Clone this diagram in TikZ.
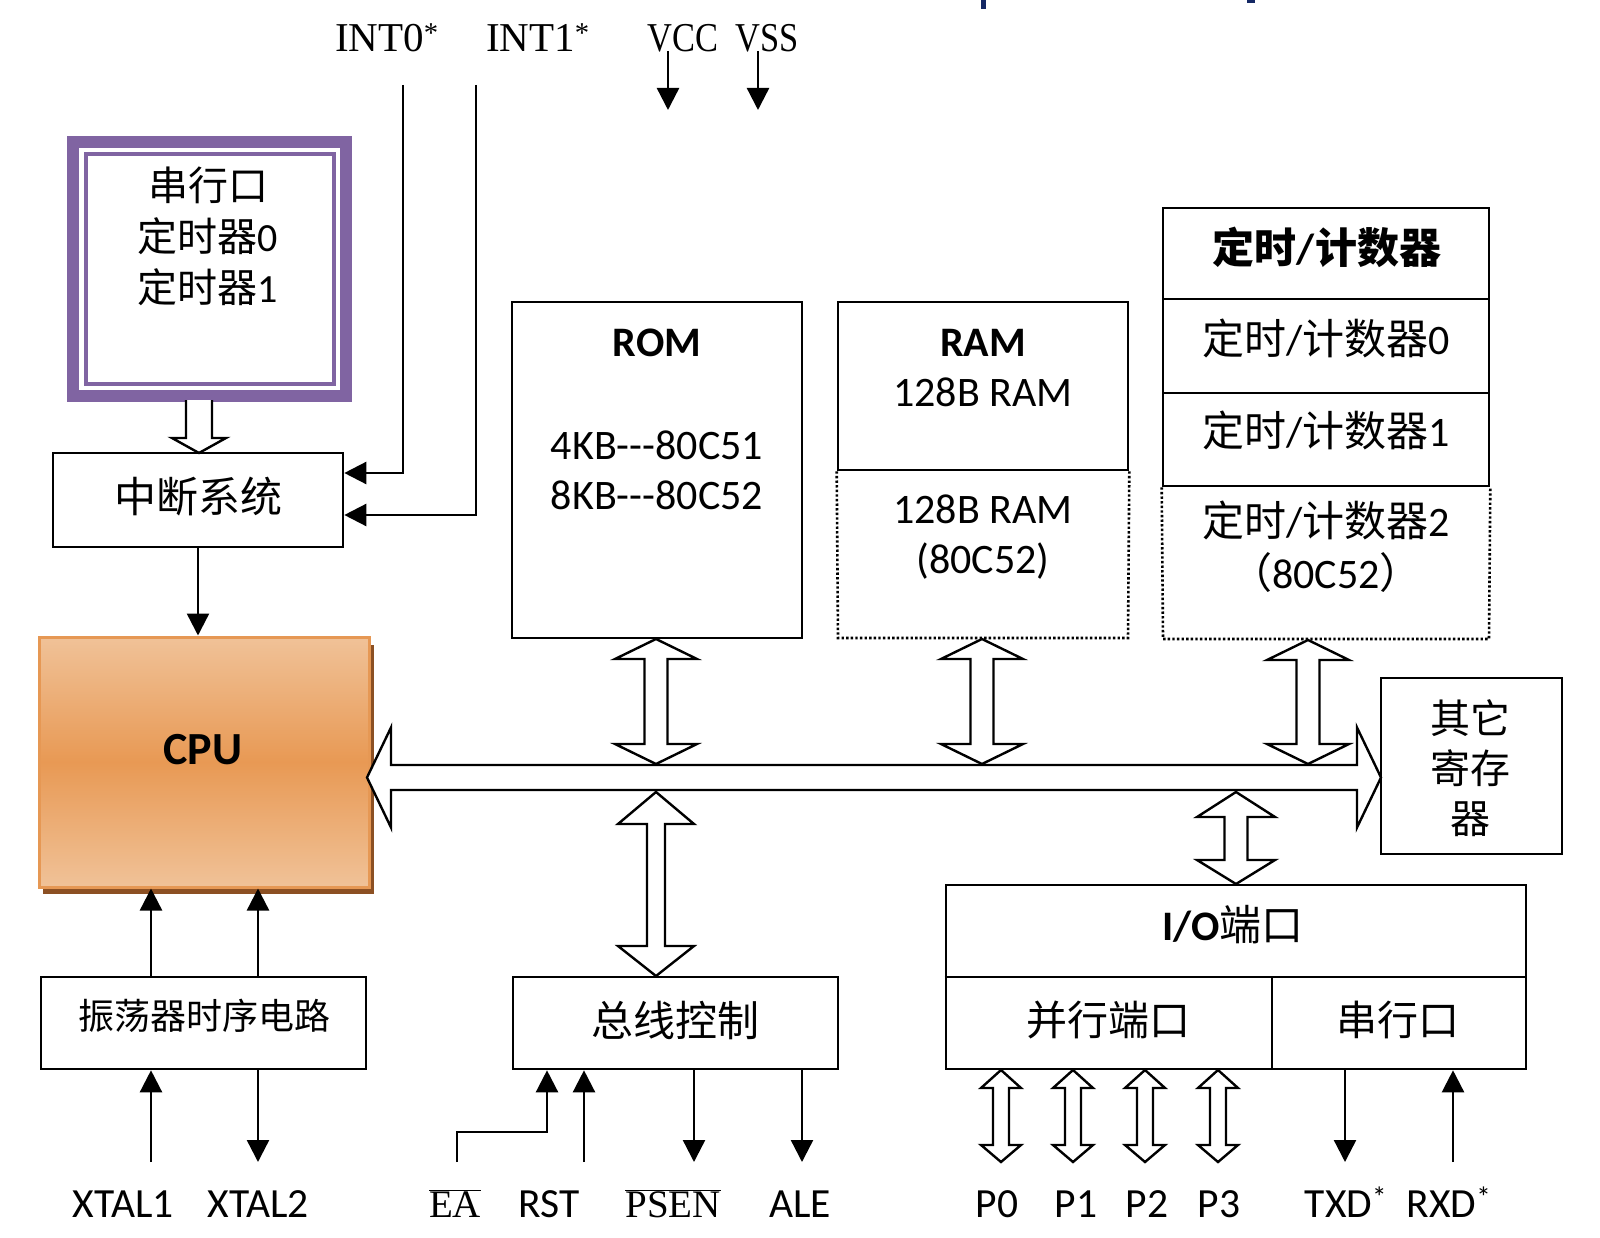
\documentclass[tikz,border=0pt]{standalone}
\usepackage{graphicx}
\usepackage{fontspec}
\setmainfont{Carlito}
\newfontfamily\cjk{Noto Sans CJK SC}
\newfontfamily\tms{Liberation Serif}
\usetikzlibrary{arrows.meta,calc}
\definecolor{purp}{RGB}{128,100,162}
\definecolor{cpuL}{RGB}{240,194,152}
\definecolor{cpuM}{RGB}{232,153,84}
\definecolor{cpuB}{RGB}{230,152,84}
\definecolor{cpuS}{RGB}{140,80,35}
\definecolor{navy}{RGB}{20,40,100}
\newcommand\vdarr[7]{\draw[hollow] (#1,#2) -- ({#1+#6},{#2+#4}) -- ({#1+#7},{#2+#4}) -- ({#1+#7},{#3-#5}) -- ({#1+#6},{#3-#5}) -- (#1,#3) -- ({#1-#6},{#3-#5}) -- ({#1-#7},{#3-#5}) -- ({#1-#7},{#2+#4}) -- ({#1-#6},{#2+#4}) -- cycle;}
\newcommand\ovl[1]{\ensuremath{\overline{\hbox{#1}}}}
\begin{document}
\begin{tikzpicture}[x=1pt,y=-1pt,
  rect/.style={draw, line width=2.6pt, inner sep=0pt},
  dotline/.style={line width=2.6pt, dash pattern=on 2.4pt off 2.2pt},
  sig/.style={line width=2.4pt, -{Triangle[length=22pt,width=22pt]}},
  plain/.style={line width=2.4pt},
  hollow/.style={draw, fill=white, line width=2.4pt, line join=miter},
  cn/.style={font=\cjk\fontsize{40}{51}\selectfont, inner sep=0pt, align=center},
  ln/.style={font=\fontsize{42}{50}\selectfont, inner sep=0pt, align=center},
  bot/.style={font=\fontsize{41.5}{48}\selectfont, inner sep=0pt, anchor=base},
  botserif/.style={font=\tms\fontsize{39}{46}\selectfont, inner sep=0pt, anchor=base},
  toplbl/.style={font=\tms\fontsize{41}{46}\selectfont, inner sep=0pt, anchor=base},
]
\useasboundingbox[fill=white] (0,0) rectangle (1600,1238);

% small fragments at top edge
\fill[navy] (981,0) rectangle (986,9);
\fill[navy] (1247,0) rectangle (1255,3);

% ---- top labels
\node[toplbl] (int0) at (387,52) {INT0\textsuperscript{*}};
\node[toplbl] (int1) at (538,52) {INT1\textsuperscript{*}};
\node[toplbl] (vcc) at (683,52) {\scalebox{0.84}[1]{VCC}};
\node[toplbl] (vss) at (767,52) {\scalebox{0.84}[1]{VSS}};
\coordinate (vccA) at (668,51);
\coordinate (vccB) at (668,110);
\coordinate (vssA) at (758,51);
\coordinate (vssB) at (758,110);
\draw[sig] (vccA) -- (vccB);
\draw[sig] (vssA) -- (vssB);

% ---- purple box
\node[draw=purp, line width=12pt, minimum width=273pt, minimum height=254pt, inner sep=0pt] (pbox) at (209.5,269) {};
\draw[purp, line width=4pt] (85.5,154.5) rectangle (333.5,383.5);
\node[cn] (ptext) at (208,236) {串行口\\定时器{\fontspec{Carlito}0}\\定时器{\fontspec{Carlito}1}};

% ---- interrupt system
\node[rect, minimum width=290pt, minimum height=94pt] (zd) at (198,500) {};
\node[cn, font=\cjk\fontsize{42}{50}\selectfont] (zdt) at (198,497) {中断系统};
\fill[white] (186,400) -- (186,438) -- (172,438) -- (199,453) -- (226,438) -- (212,438) -- (212,400) -- cycle;
\draw[line width=2.4pt, line join=miter] (186,400) -- (186,438) -- (172,438) -- (199,453) -- (226,438) -- (212,438) -- (212,400);

\coordinate (i0top) at (403,85);
\coordinate (i1top) at (476,85);
\draw[sig] (i0top) |- ([yshift=27pt]zd.east);
\draw[sig] (i1top) |- ([yshift=-15pt]zd.east);

% ---- CPU
\fill[cpuS] (43,645) rectangle (374,894);
\node[draw=cpuB, line width=3pt, top color=cpuL, bottom color=cpuL, middle color=cpuM, minimum width=330pt, minimum height=250pt, inner sep=0pt] (cpu) at (204,762) {};
\node[font=\bfseries\fontsize{46}{50}\selectfont, inner sep=0pt] (cput) at (203,750) {CPU};
\draw[sig] (zd.south) -- (zd.south |- cpu.north);

% ---- ROM
\node[rect, minimum width=290pt, minimum height=336pt] (rom) at (657,470) {};
\node[ln, font=\bfseries\fontsize{42}{50}\selectfont] (romt) at (657,343) {ROM};
\node[ln] (romc) at (657,470) {4KB-{}-{}-80C51\\8KB-{}-{}-80C52};

% ---- RAM
\node[rect, minimum width=290pt, minimum height=168pt] (ram) at (983,386) {};
\draw[dotline] (ram.south west) -- (838,638) -- (1128,638) -- (ram.south east);
\node[ln] (ramt) at (983,368) {\textbf{RAM}\\128B RAM};
\node[ln] (ram2) at (983,537) {128B RAM\\(80C52)};

% ---- Timers
\node[rect, minimum width=326pt, minimum height=91pt] (tc) at (1326,253.5) {};
\node[rect, minimum width=326pt, minimum height=94pt] (tc0) at (1326,346) {};
\node[rect, minimum width=326pt, minimum height=93pt] (tc1) at (1326,439.5) {};
\draw[dotline] (tc1.south west) -- (1163,639) -- (1489,639) -- (tc1.south east);
\node[ln, font=\bfseries\fontsize{42}{50}\selectfont] (tct) at (1327,247) {{\cjk 定时}/{\cjk 计数器}};
\node[ln] (tc0t) at (1326,338) {{\cjk 定时}/{\cjk 计数器}0};
\node[ln] (tc1t) at (1326,430) {{\cjk 定时}/{\cjk 计数器}1};
\node[ln, font=\fontsize{42}{52}\selectfont] (tc2t) at (1326,547) {{\cjk 定时}/{\cjk 计数器}2\\{\cjk （}80C52{\cjk ）}};

% ---- other registers
\node[rect, minimum width=181pt, minimum height=176pt] (reg) at (1471.5,766) {};
\node[cn, font=\cjk\fontsize{40}{50}\selectfont] (regt) at (1470,768) {其它\\寄存\\器};

% ---- bus
\draw[hollow] (367,777.5) -- (391,727.5) -- (391,765) -- (1357,765) -- (1357,727.5) -- (1381,777.5) -- (1357,827.5) -- (1357,790) -- (391,790) -- (391,827.5) -- cycle;
\vdarr{656}{639}{764}{20}{20}{41}{11.5}
\vdarr{982}{639}{764}{20}{20}{41}{11.5}
\vdarr{1308}{640}{764}{20}{20}{41}{11.5}
\vdarr{656}{792}{976}{32}{30}{38}{9}
\vdarr{1236}{792}{884}{25}{24}{39}{11.5}

% ---- oscillator
\node[rect, minimum width=325pt, minimum height=92pt] (osc) at (203.5,1023) {};
\node[cn, font=\cjk\fontsize{36}{44}\selectfont] (osct) at (204,1016) {振荡器时序电路};
\coordinate (cx1) at (151,0);
\coordinate (cx2) at (258,0);
\draw[sig] (osc.north -| cx1) -- (cpu.south -| cx1);
\draw[sig] (osc.north -| cx2) -- (cpu.south -| cx2);
\coordinate (x1end) at (151,1162);
\coordinate (x2end) at (258,1162);
\draw[sig] (x1end) -- (x1end |- osc.south);
\draw[sig] (x2end |- osc.south) -- (x2end);
\node[bot] (xtal1) at (123,1217) {XTAL1};
\node[bot] (xtal2) at (258,1217) {XTAL2};

% ---- bus control
\node[rect, minimum width=325pt, minimum height=92pt] (bc) at (675.5,1023) {};
\node[cn, font=\cjk\fontsize{42}{50}\selectfont] (bct) at (675,1020) {总线控制};
\coordinate (eaend) at (457,1162);
\coordinate (eabend) at (547,1132);
\coordinate (rstend) at (584,1162);
\coordinate (psenend) at (694,1162);
\coordinate (aleend) at (802,1162);
\draw[sig] (eaend) |- (eabend) -- (eabend |- bc.south);
\draw[sig] (rstend) -- (rstend |- bc.south);
\draw[sig] (psenend |- bc.south) -- (psenend);
\draw[sig] (aleend |- bc.south) -- (aleend);
\node[botserif] (ea) at (455,1217) {\ovl{EA}};
\node[bot] (rst) at (549,1217) {RST};
\node[botserif] (psen) at (673,1217) {\ovl{PSEN}};
\node[bot] (ale) at (800,1217) {ALE};

% ---- I/O
\node[rect, minimum width=580pt, minimum height=184pt] (io) at (1236,977) {};
\draw[line width=2.6pt] (io.west) -- (io.east);
\draw[line width=2.6pt] (1272,977) -- (1272,1069);
\node[ln] (iot) at (1233,925) {\textbf{I/O}{\cjk 端口}};
\node[cn, font=\cjk\fontsize{41}{50}\selectfont] (par) at (1108,1020) {并行端口};
\node[cn, font=\cjk\fontsize{41}{50}\selectfont] (ser) at (1398,1020) {串行口};
\vdarr{1001}{1070}{1162}{18}{17}{20}{8}
\vdarr{1073}{1070}{1162}{18}{17}{20}{8}
\vdarr{1145}{1070}{1162}{18}{17}{20}{8}
\vdarr{1218}{1070}{1162}{18}{17}{20}{8}
\coordinate (txdend) at (1345,1162);
\coordinate (rxdend) at (1453,1162);
\draw[sig] (txdend |- io.south) -- (txdend);
\draw[sig] (rxdend) -- (rxdend |- io.south);
\node[bot] (p0) at (997,1217) {P0};
\node[bot] (p1) at (1076,1217) {P1};
\node[bot] (p2) at (1147,1217) {P2};
\node[bot] (p3) at (1219,1217) {P3};
\node[bot] (txd) at (1346,1217) {TXD\textsuperscript{*}};
\node[bot] (rxd) at (1449,1217) {RXD\textsuperscript{*}};
\end{tikzpicture}
\end{document}
